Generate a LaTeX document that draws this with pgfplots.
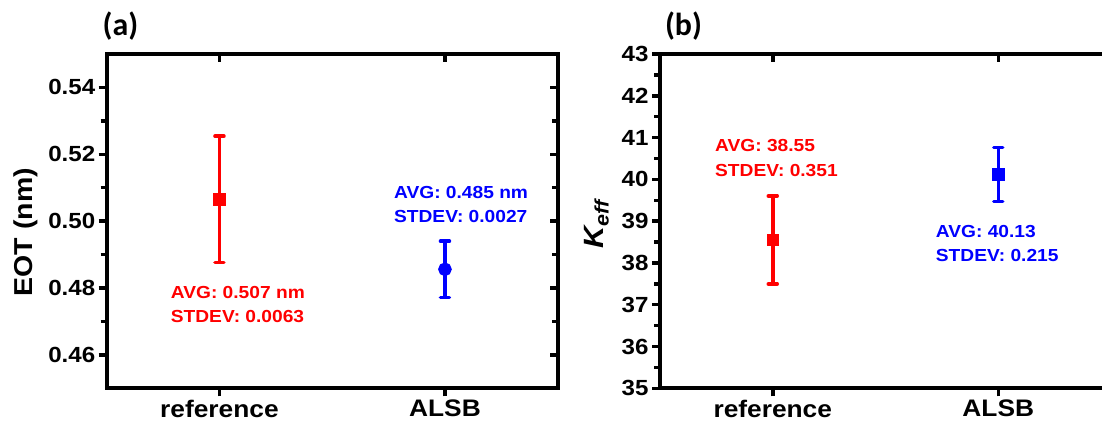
\documentclass[border=0pt]{standalone}
\usepackage{fontspec}
\setmainfont{Liberation Sans}[FakeStretch=1.1]
\newfontfamily\panelfont{Carlito}
\usepackage{pgfplots}
\pgfplotsset{compat=1.18}

\pgfplotsset{
  base/.style={
    scale only axis, width=451bp, height=334.3bp, anchor=south west,
    xmin=0.5, xmax=2.5, xtick={1,2}, clip=false,
    axis line style={line width=4bp},
    tick style={black, line width=3.5bp},
    major tick length=8bp, minor tick length=6bp,
    minor y tick num=1,
    /pgf/number format/assume math mode=true,
    tick label style={font=\bfseries\fontsize{22}{26}\selectfont},
  },
  under/.style={base, xtick pos=left, ytick pos=left, tick align=outside,
    xticklabels={reference,ALSB},
    xticklabel style={font=\bfseries\fontsize{24}{28}\selectfont},
  },
  over/.style={base, xtick pos=right, ytick pos=right, tick align=inside,
    xticklabels={}, yticklabels={}},
  ebar/.style={only marks, line width=3.5bp,
    error bars/y dir=both, error bars/y explicit,
    error bars/error bar style={line width=3.5bp},
    error bars/error mark options={rotate=90, line width=3.5bp, mark size=4.5bp, line cap=round}},
}
\tikzset{note/.style={anchor=west, font=\bfseries\fontsize{17.5}{21}\selectfont}}

\begin{document}
\begin{tikzpicture}
\useasboundingbox (0,0) rectangle (1102bp,427bp);
\clip (0,0) rectangle (1102bp,427bp);

% (a) EOT
\begin{axis}[under, at={(106.7bp,38.7bp)},
  ymin=0.45, ymax=0.55, ytick={0.46,0.48,0.50,0.52,0.54},
  yticklabel style={/pgf/number format/.cd, fixed, fixed zerofill, precision=2},
  ylabel={EOT (nm)},
  ylabel style={font=\bfseries\fontsize{26}{30}\selectfont, at={(ticklabel cs:0.467,4bp)}}]
\addplot[red, mark=square*, mark size=4.5bp, ebar] coordinates {(1,0.5065) +- (0,0.0189)};
\addplot[blue, mark=*, mark size=5bp, ebar] coordinates {(2,0.4856) +- (0,0.0084)};
\node[note, text=red] at (axis cs:0.769,0.4787) {AVG: 0.507 nm};
\node[note, text=red] at (axis cs:0.769,0.4716) {STDEV: 0.0063};
\node[note, text=blue] at (axis cs:1.759,0.5085) {AVG: 0.485 nm};
\node[note, text=blue] at (axis cs:1.759,0.5013) {STDEV: 0.0027};
\end{axis}
\begin{axis}[over, at={(106.7bp,38.7bp)},
  ymin=0.45, ymax=0.55, ytick={0.46,0.48,0.50,0.52,0.54}]
\end{axis}

% (b) K_eff
\begin{axis}[under, at={(660bp,38.7bp)},
  ymin=35, ymax=43, ytick={35,36,...,43},
  ylabel={\itshape K\textsubscript{eff}},
  ylabel style={font=\bfseries\fontsize{28}{32}\selectfont, at={(ticklabel cs:0.49,6bp)}}]
\addplot[red, mark=square*, mark size=4.5bp, ebar] coordinates {(1,38.55) +- (0,1.053)};
\addplot[blue, mark=square*, mark size=4.5bp, ebar] coordinates {(2,40.12) +- (0,0.645)};
\node[note, text=red] at (axis cs:0.729,40.80) {AVG: 38.55};
\node[note, text=red] at (axis cs:0.729,40.22) {STDEV: 0.351};
\node[note, text=blue] at (axis cs:1.708,38.75) {AVG: 40.13};
\node[note, text=blue] at (axis cs:1.708,38.17) {STDEV: 0.215};
\end{axis}
\begin{axis}[over, at={(660bp,38.7bp)},
  ymin=35, ymax=43, ytick={35,36,...,43}]
\end{axis}

\node[font=\panelfont\bfseries\fontsize{32}{36}\selectfont] at (120.5bp,401bp) {(a)};
\node[font=\panelfont\bfseries\fontsize{32}{36}\selectfont] at (683.5bp,401bp) {(b)};
\end{tikzpicture}
\end{document}
